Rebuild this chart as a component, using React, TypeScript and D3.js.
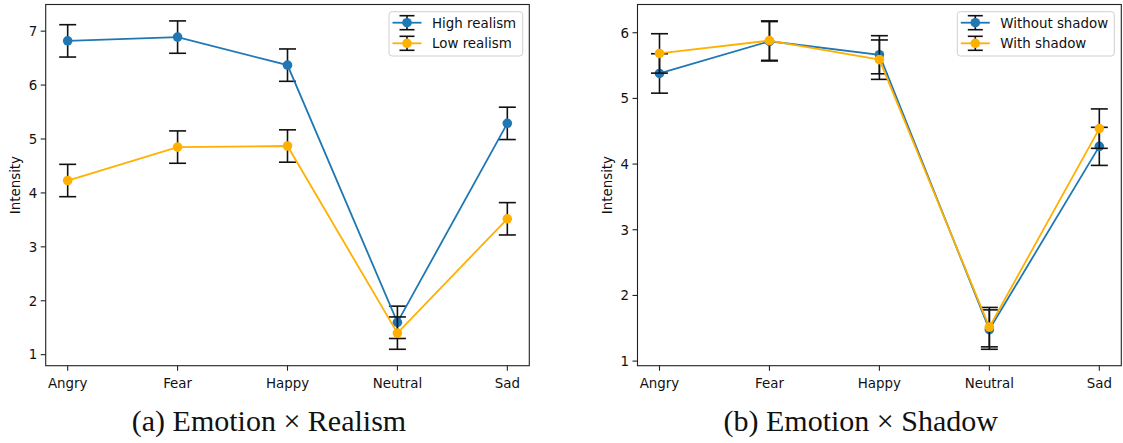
import React from "react";
import * as d3 from "d3";

const categories = ["Angry", "Fear", "Happy", "Neutral", "Sad"];

// Panel (a): Emotion × Realism
const highRealism = [6.82, 6.89, 6.37, 1.6, 5.29];
const highRealismErr = [0.3, 0.3, 0.3, 0.3, 0.3];
const lowRealism = [4.23, 4.85, 4.87, 1.4, 3.52];
const lowRealismErr = [0.3, 0.3, 0.3, 0.3, 0.3];
const realismTicks = [1, 2, 3, 4, 5, 6, 7];

// Panel (b): Emotion × Shadow
const withoutShadow = [5.38, 5.87, 5.665, 1.48, 4.27];
const withoutShadowErr = [0.3, 0.3, 0.29, 0.3, 0.29];
const withShadow = [5.685, 5.88, 5.59, 1.517, 4.54];
const withShadowErr = [0.3, 0.3, 0.3, 0.3, 0.3];
const shadowTicks = [1, 2, 3, 4, 5, 6];

const BLUE = "#1f77b4";
const ORANGE = "#ffb000";
const FONT = "DejaVu Sans";
const FS = 13.4;

type Series = { name: string; values: number[]; errs: number[]; color: string };

function Panel(props: {
  left: number;
  right: number;
  top: number;
  bottom: number;
  series: Series[];
  ticks: number[];
  legendLeft: number;
  legendRight: number;
  caption: string;
  captionX: number;
}) {
  const { left, right, top, bottom, series, ticks } = props;
  const lo = d3.min(series.flatMap((s) => s.values.map((v, i) => v - s.errs[i]))) as number;
  const hi = d3.max(series.flatMap((s) => s.values.map((v, i) => v + s.errs[i]))) as number;
  const pad = (hi - lo) * 0.05;
  const x = d3.scalePoint<string>().domain(categories).range([left, right]).padding(0.2);
  const y = d3.scaleLinear().domain([lo - pad, hi + pad]).range([bottom, top]);
  const line = d3
    .line<number>()
    .x((_, i) => x(categories[i]) as number)
    .y((d) => y(d));
  const capHalf = 8.5;
  const legendTop = 11.7;
  const rowH = 20.6;
  const hx = props.legendLeft + 18;
  return (
    <g>
      {/* y ticks */}
      {ticks.map((t) => (
        <g key={"y" + t}>
          <line x1={left - 5} x2={left} y1={y(t)} y2={y(t)} stroke="#222" strokeWidth={1.1} />
          <text x={left - 8.5} y={y(t)} dy="0.36em" textAnchor="end" fontFamily={FONT} fontSize={FS} fill="#111">
            {t}
          </text>
        </g>
      ))}
      {/* x ticks */}
      {categories.map((c) => (
        <g key={"x" + c}>
          <line x1={x(c)} x2={x(c)} y1={bottom} y2={bottom + 5} stroke="#222" strokeWidth={1.1} />
          <text x={x(c)} y={bottom + 22} textAnchor="middle" fontFamily={FONT} fontSize={FS} fill="#111">
            {c}
          </text>
        </g>
      ))}
      <text
        transform={`translate(${left - 25.5},${(top + bottom) / 2}) rotate(-90)`}
        textAnchor="middle"
        fontFamily={FONT}
        fontSize={FS}
        fill="#111"
      >
        Intensity
      </text>
      {/* series */}
      {series.map((s) => (
        <g key={s.name}>
          {s.values.map((v, i) => {
            const cx = x(categories[i]) as number;
            const y1 = y(v + s.errs[i]);
            const y2 = y(v - s.errs[i]);
            return (
              <g key={i} stroke="#111" strokeWidth={1.6}>
                <line x1={cx} x2={cx} y1={y1} y2={y2} />
                <line x1={cx - capHalf} x2={cx + capHalf} y1={y1} y2={y1} />
                <line x1={cx - capHalf} x2={cx + capHalf} y1={y2} y2={y2} />
              </g>
            );
          })}
          <path d={line(s.values) || ""} fill="none" stroke={s.color} strokeWidth={1.8} />
          {s.values.map((v, i) => (
            <circle key={i} cx={x(categories[i])} cy={y(v)} r={4.8} fill={s.color} />
          ))}
        </g>
      ))}
      {/* frame */}
      <rect x={left} y={top} width={right - left} height={bottom - top} fill="none" stroke="#222" strokeWidth={1.1} />
      {/* legend */}
      <rect
        x={props.legendLeft}
        y={legendTop}
        width={props.legendRight - props.legendLeft}
        height={44.3}
        rx={3}
        fill="white"
        fillOpacity={0.8}
        stroke="#d0d0d0"
        strokeWidth={1}
      />
      {series.map((s, k) => {
        const cy = legendTop + 11 + k * rowH;
        return (
          <g key={"lg" + s.name}>
            <g stroke="#111" strokeWidth={1.6}>
              <line x1={hx} x2={hx} y1={cy - 7} y2={cy + 7} />
              <line x1={hx - 7.5} x2={hx + 7.5} y1={cy - 7} y2={cy - 7} />
              <line x1={hx - 7.5} x2={hx + 7.5} y1={cy + 7} y2={cy + 7} />
            </g>
            <line x1={hx - 14.5} x2={hx + 14.5} y1={cy} y2={cy} stroke={s.color} strokeWidth={1.8} />
            <circle cx={hx} cy={cy} r={4.8} fill={s.color} />
            <text x={hx + 25} y={cy} dy="0.36em" fontFamily={FONT} fontSize={FS} fill="#111">
              {s.name}
            </text>
          </g>
        );
      })}
      <text x={props.captionX} y={431} textAnchor="middle" fontFamily="Liberation Serif" fontSize={30} fill="#111">
        {props.caption}
      </text>
    </g>
  );
}

export default function App() {
  return (
    <svg
      width={1123}
      height={443}
      style={{ position: "absolute", left: 0, top: 0, display: "block", background: "white" }}
    >
      <rect width={1123} height={443} fill="white" />
      <Panel
        left={45.7}
        right={529.3}
        top={4.5}
        bottom={365.7}
        ticks={realismTicks}
        series={[
          { name: "High realism", values: highRealism, errs: highRealismErr, color: BLUE },
          { name: "Low realism", values: lowRealism, errs: lowRealismErr, color: ORANGE },
        ]}
        legendLeft={389}
        legendRight={522.7}
        caption={"(a) Emotion \u00d7 Realism"}
        captionX={269}
      />
      <Panel
        left={637.5}
        right={1121.3}
        top={4.5}
        bottom={365.7}
        ticks={shadowTicks}
        series={[
          { name: "Without shadow", values: withoutShadow, errs: withoutShadowErr, color: BLUE },
          { name: "With shadow", values: withShadow, errs: withShadowErr, color: ORANGE },
        ]}
        legendLeft={957.3}
        legendRight={1114.3}
        caption={"(b) Emotion \u00d7 Shadow"}
        captionX={860.7}
      />
    </svg>
  );
}
